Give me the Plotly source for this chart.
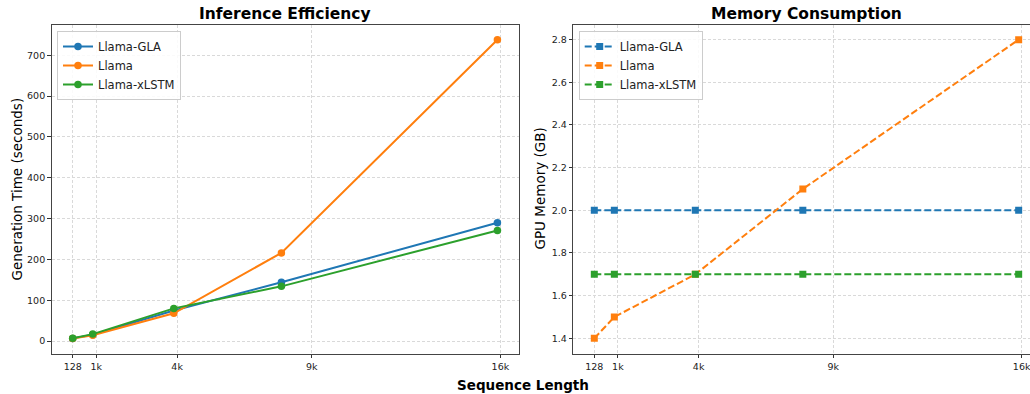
import plotly.graph_objects as go

# ---- data ----
seq_len = [128, 890, 3970, 8060, 16270]
tick_vals = [128, 1024, 4096, 9216, 16384]
tick_text = ["128", "1k", "4k", "9k", "16k"]

time_gla = [6.5, 15.5, 75, 144, 290]
time_llama = [6, 14, 68, 216, 738]
time_xlstm = [7, 17, 80, 134, 271]

mem_gla = [2.0, 2.0, 2.0, 2.0, 2.0]
mem_llama = [1.4, 1.5, 1.7, 2.1, 2.8]
mem_xlstm = [1.7, 1.7, 1.7, 1.7, 1.7]

names = ["Llama-GLA", "Llama", "Llama-xLSTM"]
colors = ["#1f77b4", "#ff7f0e", "#2ca02c"]

W, H = 1030, 394
FONT = "DejaVu Sans"

fig = go.Figure()

for name, ys, c in zip(names, [time_gla, time_llama, time_xlstm], colors):
    fig.add_trace(go.Scatter(
        x=seq_len, y=ys, name=name, mode="lines+markers",
        line=dict(color=c, width=2),
        marker=dict(symbol="circle", size=7.5, color=c),
        xaxis="x", yaxis="y", legend="legend",
    ))

for name, ys, c in zip(names, [mem_gla, mem_llama, mem_xlstm], colors):
    fig.add_trace(go.Scatter(
        x=seq_len, y=ys, name=name, mode="lines+markers",
        line=dict(color=c, width=2, dash="7px,3px"),
        marker=dict(symbol="square", size=7, color=c),
        xaxis="x2", yaxis="y2", legend="legend2",
    ))

ydom = [1 - 353.7 / H, 1 - 24.7 / H]
tickfont = dict(family=FONT, size=9.5, color="#222")
grid = dict(showgrid=True, gridcolor="#d9d9d9", griddash="3px,2px", gridwidth=0.8,
            zeroline=False, ticks="outside", ticklen=3.5, tickwidth=1,
            tickcolor="#333", tickfont=tickfont, showline=True,
            linecolor="#444", linewidth=1.2, automargin=False)

legend_common = dict(
    font=dict(family=FONT, size=11.5, color="#222"),
    bgcolor="rgba(255,255,255,0.85)", bordercolor="#cccccc", borderwidth=1,
    xanchor="left", yanchor="top", itemwidth=30, tracegroupgap=0,
)

fig.update_layout(
    width=W, height=H,
    margin=dict(l=0, r=0, t=0, b=0, autoexpand=False),
    paper_bgcolor="white", plot_bgcolor="white",
    font=dict(family=FONT, color="#222"),
    xaxis=dict(domain=[51.7 / W, 519 / W], range=[-670, 17090],
               tickvals=tick_vals, ticktext=tick_text, mirror=True,
               anchor="y", **grid),
    yaxis=dict(domain=ydom, range=[-31, 775], tickvals=list(range(0, 701, 100)),
               mirror=True, anchor="x", **grid),
    xaxis2=dict(domain=[573.3 / W, 1.0], range=[-671, 16701],
                tickvals=tick_vals, ticktext=tick_text, mirror=True,
                anchor="y2", ticklabeloverflow="allow", **grid),
    yaxis2=dict(domain=ydom, range=[1.328, 2.870],
                tickvals=[1.4, 1.6, 1.8, 2.0, 2.2, 2.4, 2.6, 2.8],
                tickformat=".1f", mirror=False, anchor="x2", **grid),
    legend=dict(x=57 / W, y=1 - 31 / H, **legend_common),
    legend2=dict(x=578.7 / W, y=1 - 31 / H, **legend_common),
    showlegend=True,
)

def ann(text, x, y, size, angle=0):
    fig.add_annotation(text=text, x=x / W, y=1 - y / H, xref="paper", yref="paper",
                       showarrow=False, textangle=angle,
                       font=dict(family=FONT, size=size, color="#000"),
                       xanchor="center", yanchor="middle")

ann("<b>Inference Efficiency</b>", 285.4, 14, 15.5)
ann("<b>Memory Consumption</b>", 806.5, 14, 15.5)
ann("<b>Sequence Length</b>", 522.5, 385, 13.5)
ann("Generation Time (seconds)", 16.5, 189, 13.5, -90)
ann("GPU Memory (GB)", 539.5, 189, 13.5, -90)

fig.write_html("out.html", config={"displayModeBar": False})

# remove default page margin so the figure sits at the window's top-left corner
with open("out.html", encoding="utf-8") as f:
    html = f.read()
html = html.replace("<head>", "<head><style>html,body{margin:0;padding:0;overflow:hidden;}</style>", 1)
with open("out.html", "w", encoding="utf-8") as f:
    f.write(html)
